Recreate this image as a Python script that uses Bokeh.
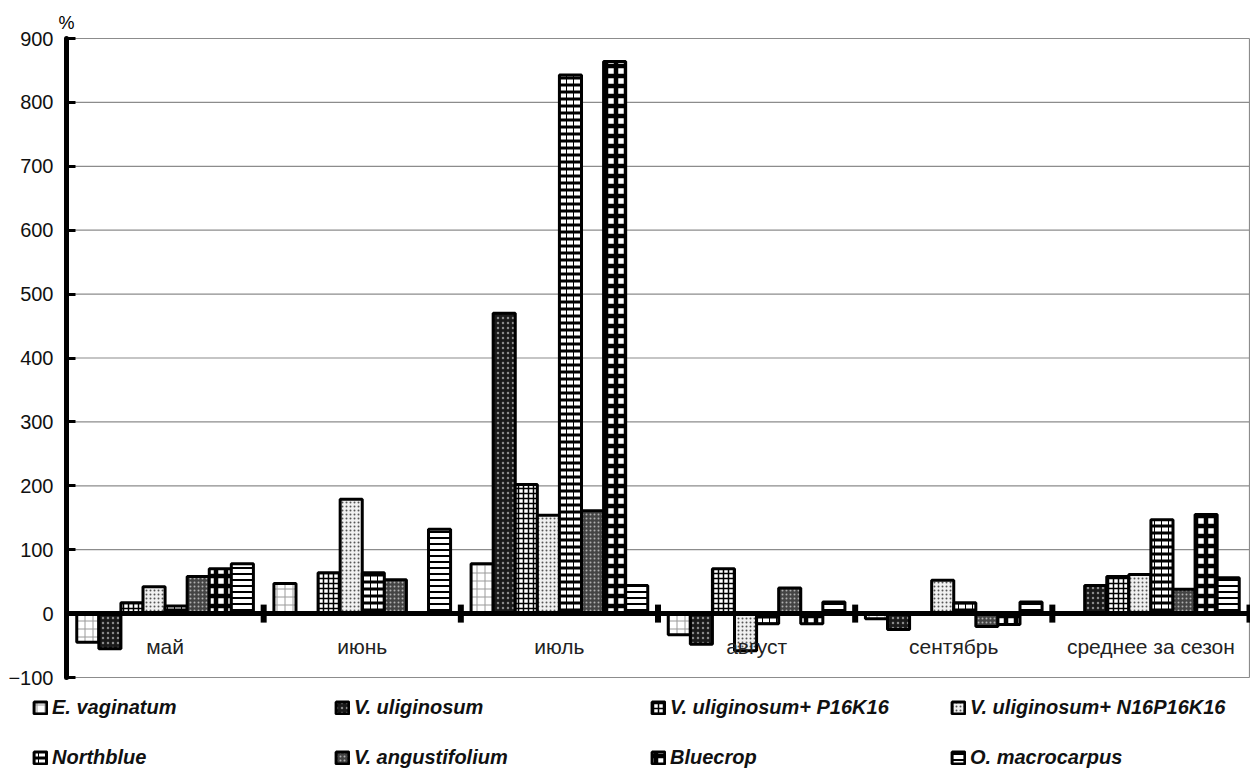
import numpy as np
from bokeh.plotting import figure
from bokeh.models import (ColumnDataSource, Range1d, FixedTicker, Legend, LegendItem)
from bokeh.core.properties import value
from bokeh.embed import file_html
from bokeh.resources import INLINE

# ---------------- data ----------------
months = ["май", "июнь", "июль", "август", "сентябрь", "среднее за сезон"]
series_names = ["E. vaginatum", "V. uliginosum", "V. uliginosum+ P16K16",
                "V. uliginosum+ N16P16K16", "Northblue", "V. angustifolium",
                "Bluecrop", "O. macrocarpus"]
e_vaginatum = [-45, 47, 78, -33, -8, 0]
v_uliginosum = [-55, 0, 470, -48, -25, 44]
v_uliginosum_pk = [17, 64, 202, 70, 0, 58]
v_uliginosum_npk = [42, 179, 154, -58, 52, 61]
northblue = [12, 64, 843, -16, 17, 147]
v_angustifolium = [58, 53, 161, 40, -20, 38]
bluecrop = [70, 0, 864, -16, -17, 155]
o_macrocarpus = [78, 132, 44, 18, 18, 56]
y_ticks = [-100, 0, 100, 200, 300, 400, 500, 600, 700, 800, 900]

series_values = [e_vaginatum, v_uliginosum, v_uliginosum_pk, v_uliginosum_npk,
                 northblue, v_angustifolium, bluecrop, o_macrocarpus]

# ---------------- styles ----------------
styles = [
    dict(fill_color="white", hatch_pattern="cross", hatch_color="#9a9a9a", hatch_scale=8, hatch_weight=1),
    dict(fill_color="#1a1a1a", hatch_pattern="dot", hatch_color="#8a8a8a", hatch_scale=5, hatch_weight=1.5),
    dict(fill_color="white", hatch_pattern="cross", hatch_color="black", hatch_scale=5, hatch_weight=1.5),
    dict(fill_color="#f0f0f0", hatch_pattern="dot", hatch_color="#555555", hatch_scale=4, hatch_weight=1),
    dict(fill_color="black", hatch_pattern="horizontal_dash", hatch_color="white", hatch_scale=7, hatch_weight=4),
    dict(fill_color="#444444", hatch_pattern="dot", hatch_color="#b0b0b0", hatch_scale=4, hatch_weight=1.5),
    dict(fill_color="white", hatch_pattern="cross", hatch_color="black", hatch_scale=10, hatch_weight=4.5),
    dict(fill_color="white", hatch_pattern="horizontal_line", hatch_color="black", hatch_scale=6, hatch_weight=2),
]

FONT = "Liberation Sans"
W, H = 1250, 770
LEFT_PX, RIGHT_PX = 66, 1249          # page x of category span
TOP_PX, BOT_PX = 38, 677              # page y of 900 and -100
n_cat = len(months)
xpu = (RIGHT_PX - LEFT_PX) / n_cat
ypu = (BOT_PX - TOP_PX) / (y_ticks[-1] - y_ticks[0])

p = figure(width=W, height=H, output_backend="svg", toolbar_location=None,
           x_range=Range1d(-LEFT_PX / xpu, n_cat + (W - RIGHT_PX) / xpu),
           y_range=Range1d(y_ticks[0] - (H - BOT_PX) / ypu,
                           y_ticks[-1] + TOP_PX / ypu),
           min_border_left=0, min_border_right=0, min_border_top=0,
           min_border_bottom=0)
p.outline_line_color = None
p.background_fill_color = "white"
p.border_fill_color = "white"
p.xaxis.visible = False
p.grid.visible = False

# horizontal gridlines between axis and right border
p.segment(x0=0, x1=n_cat, y0=y_ticks, y1=y_ticks, line_color="#8c8c8c", line_width=1.2)
# right border
p.segment(x0=[n_cat], x1=[n_cat], y0=[y_ticks[0]], y1=[y_ticks[-1]],
          line_color="#8c8c8c", line_width=1.2)

ya = p.yaxis[0]
ya.fixed_location = 0
ya.bounds = (y_ticks[0], y_ticks[-1])
ya.ticker = FixedTicker(ticks=y_ticks)
ya.axis_line_color = "black"
ya.axis_line_width = 5
ya.axis_line_cap = "round"
ya.major_tick_out = 0
ya.major_tick_in = 9
ya.major_tick_line_color = "black"
ya.major_tick_line_width = 3
ya.minor_tick_line_color = None
ya.major_label_text_font = FONT
ya.major_label_text_font_size = "20px"
ya.major_label_text_color = "#111111"
ya.major_label_standoff = 13

n_series = len(series_values)
bar_w = 0.112
centers = np.arange(n_cat) + 0.5

renderers = []
for j, (name, vals, st) in enumerate(zip(series_names, series_values, styles)):
    xs = centers + (j - (n_series - 1) / 2) * bar_w
    src = ColumnDataSource(dict(x=xs, top=vals, cat=months))
    r = p.vbar(x="x", top="top", bottom=0, width=bar_w, source=src,
               line_color="black", line_width=3, **st)
    renderers.append(r)

# zero line
p.segment(x0=[0], x1=[n_cat], y0=[0], y1=[0], line_color="black", line_width=5)

# category boundary tick marks
p.rect(x=np.arange(1, n_cat + 1), y=0, width=6, height=18,
       width_units="screen", height_units="screen",
       fill_color="black", line_color=None)

# category labels just below zero line
p.text(x=centers, y=np.zeros(n_cat), text=months, y_offset=33,
       text_align="center", text_baseline="middle",
       text_font=value(FONT), text_font_size="21px", text_color="#222222")

# "%" unit label above the axis
p.text(x=[0], y=[y_ticks[-1]], text=["%"], x_offset=0, y_offset=-16,
       text_align="center", text_baseline="middle",
       text_font=value(FONT), text_font_size="18px", text_color="black")

# legends: four columns of two rows
col_x = [32, 334, 650, 950]
for c in range(4):
    items = [LegendItem(label=series_names[c], renderers=[renderers[c]]),
             LegendItem(label=series_names[c + 4], renderers=[renderers[c + 4]])]
    lg = Legend(items=items, location=(col_x[c], 1), orientation="vertical",
                padding=0, margin=0, spacing=27, glyph_width=16, glyph_height=15,
                label_height=20, label_standoff=4, border_line_color=None,
                background_fill_alpha=0,
                label_text_font=FONT, label_text_font_size="20px",
                label_text_font_style="bold italic", label_text_color="#111111")
    p.add_layout(lg, "center")

open("out.html", "w").write(file_html(p, INLINE))
